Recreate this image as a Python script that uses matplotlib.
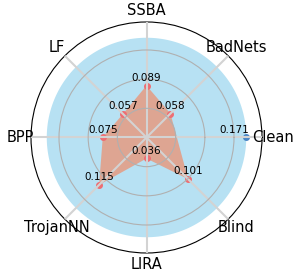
import numpy as np
import matplotlib.pyplot as plt

# attack names and the values shown on the radar
categories = ['Clean', 'BadNets', 'SSBA', 'LF', 'BPP', 'TrojanNN', 'LIRA', 'Blind']
attack_vals = [None, 0.058, 0.089, 0.057, 0.075, 0.115, 0.036, 0.101]
clean_val = 0.171

fig = plt.figure(figsize=(2.99, 2.79), dpi=100)
ax = fig.add_axes([0.1037, 0.0932, 0.7726, 0.828], projection='polar')

angles = np.linspace(0, 2 * np.pi, len(categories), endpoint=False)

# clean reference drawn as a full circle
circ = np.linspace(0, 2 * np.pi, 200)
ax.fill(circ, np.full_like(circ, clean_val), color='skyblue', alpha=0.6, lw=0)
ax.plot([angles[0]], [clean_val], 'o', color='#4a86c6', ms=4)
ax.annotate(f'{clean_val:.3f}', (angles[0], clean_val), xytext=(-9, 2),
            textcoords='offset points', ha='center', va='bottom', fontsize=7.5)

# attack polygon
a_ang = angles[1:]
a_val = np.array(attack_vals[1:], dtype=float)
ax.fill(np.append(a_ang, a_ang[0]), np.append(a_val, a_val[0]),
        color='darksalmon', alpha=0.8, lw=0)
ax.plot(a_ang, a_val, 'o', color='#ee6e73', ms=4, lw=0)
for t, v in zip(a_ang, a_val):
    ax.annotate(f'{v:.3f}', (t, v), xytext=(0, 2), textcoords='offset points',
                ha='center', va='bottom', fontsize=7.5)

ax.set_ylim(0, 0.198)
ax.set_yticks([0.05, 0.10, 0.15])
ax.set_yticklabels([])
ax.set_xticks(angles)
ax.set_xticklabels(categories, fontsize=10.5)
ax.tick_params(axis='x', pad=-2.5)
ax.set_axisbelow(False)
ax.xaxis.grid(True, color='lightgray', lw=1.5)
ax.yaxis.grid(True, color='#b0b0b0', lw=0.8)
ax.spines['polar'].set_linewidth(0.8)

fig.savefig('out.png', dpi=100)
